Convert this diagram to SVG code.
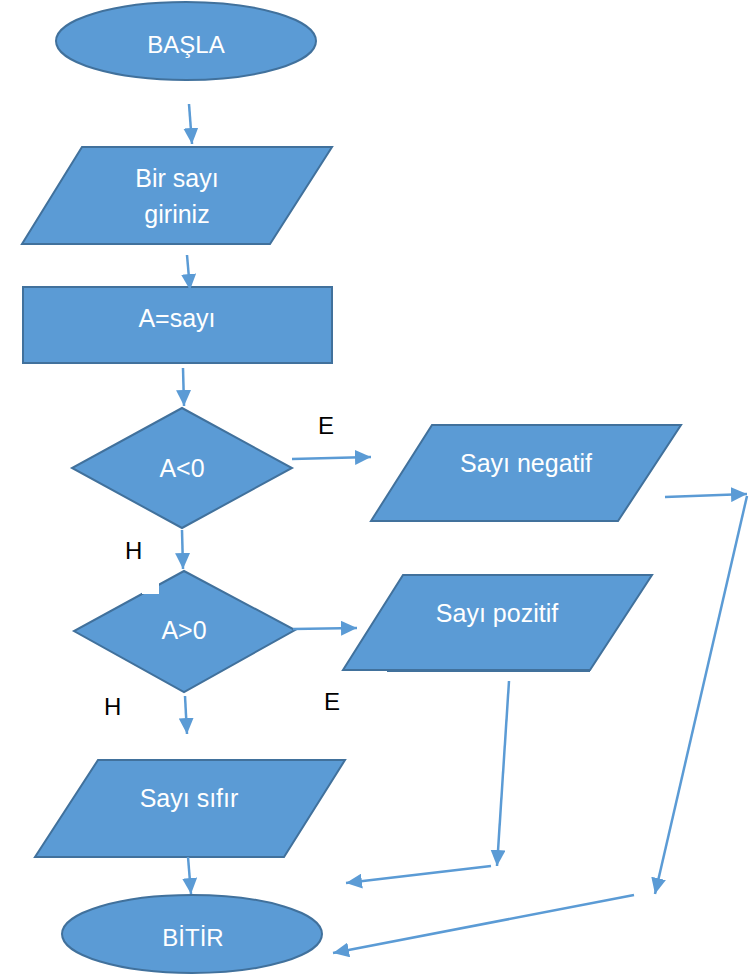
<svg xmlns="http://www.w3.org/2000/svg" width="749" height="974" viewBox="0 0 749 974">
  <style>
    .shape { fill: #5B9BD5; stroke: #41719C; stroke-width: 2; }
    .label { font-family: "Liberation Sans", Arial, sans-serif; font-size: 25px; fill: #FFFFFF; text-anchor: middle; }
    .term { font-size: 24px; }
    .branch { font-family: "Liberation Sans", Arial, sans-serif; font-size: 24px; fill: #000000; }
    .link { fill: none; stroke: #5B9BD5; stroke-width: 2.5; marker-end: url(#head); }
  </style>
  <defs>
    <marker id="head" markerUnits="userSpaceOnUse" markerWidth="16" markerHeight="15" refX="16" refY="7.5" orient="auto">
      <path d="M0,0 L16,7.5 L0,15 z" fill="#5B9BD5"/>
    </marker>
  </defs>
  <rect width="749" height="974" fill="#FFFFFF"/>

  <!-- start terminal -->
  <g id="start">
    <ellipse class="shape" cx="186" cy="41" rx="130" ry="39"/>
    <text class="label term" x="186" y="53">BAŞLA</text>
  </g>

  <!-- input -->
  <g id="input">
    <polygon class="shape" points="82,147 332,147 270,244 22,244"/>
    <text class="label" x="177" y="187">Bir sayı</text>
    <text class="label" x="177" y="223">giriniz</text>
  </g>

  <!-- assignment -->
  <g id="assign">
    <rect class="shape" x="23" y="287" width="309" height="76"/>
    <text class="label" x="177" y="327">A=sayı</text>
  </g>

  <!-- first decision -->
  <g id="less">
    <polygon class="shape" points="182,408 292,468 182,528 72,468"/>
    <text class="label" x="182" y="477">A&lt;0</text>
  </g>

  <!-- second decision (with a small bite taken out of its upper-left edge) -->
  <g id="greater">
    <polygon class="shape" points="184,571 295,630 184,692 74,631"/>
    <rect x="142" y="574" width="17" height="20" fill="#FFFFFF"/>
    <text class="label" x="184" y="639">A&gt;0</text>
  </g>

  <!-- outputs -->
  <g id="negative">
    <polygon class="shape" points="432,425 681,425 618,521 371,521"/>
    <text class="label" x="526" y="472">Sayı negatif</text>
  </g>

  <g id="positive">
    <polygon class="shape" points="403,575 652,575 590,670 343,670"/>
    <line x1="387" y1="671" x2="590" y2="671" stroke="#41719C" stroke-width="2"/>
    <text class="label" x="497" y="622">Sayı pozitif</text>
  </g>

  <g id="zero">
    <polygon class="shape" points="98,760 345,760 284,857 35,857"/>
    <text class="label" x="189" y="807">Sayı sıfır</text>
  </g>

  <!-- end terminal -->
  <g id="end">
    <ellipse class="shape" cx="192" cy="934" rx="130" ry="39"/>
    <text class="label term" x="193" y="946">BİTİR</text>
  </g>

  <!-- connectors -->
  <g id="connectors">
    <line class="link" x1="189" y1="104" x2="192" y2="144"/>
    <line class="link" x1="187" y1="255" x2="190" y2="290"/>
    <line class="link" x1="183" y1="368" x2="184" y2="406"/>
    <line class="link" x1="292" y1="459" x2="371" y2="457"/>
    <line class="link" x1="182" y1="530" x2="183" y2="569"/>
    <line class="link" x1="293" y1="629" x2="357" y2="628"/>
    <line class="link" x1="185" y1="696" x2="187" y2="734"/>
    <line class="link" x1="188" y1="857" x2="191" y2="894"/>
    <line class="link" x1="665" y1="497" x2="747" y2="494"/>
    <line class="link" x1="747" y1="496" x2="655" y2="894"/>
    <line class="link" x1="634" y1="895" x2="333" y2="953"/>
    <line class="link" x1="509" y1="681" x2="497" y2="866"/>
    <line class="link" x1="491" y1="866" x2="346" y2="883"/>
  </g>

  <!-- branch labels -->
  <g id="branch-labels">
    <text class="branch" x="318" y="434">E</text>
    <text class="branch" x="125" y="559">H</text>
    <text class="branch" x="104" y="715">H</text>
    <text class="branch" x="324" y="710">E</text>
  </g>
</svg>
